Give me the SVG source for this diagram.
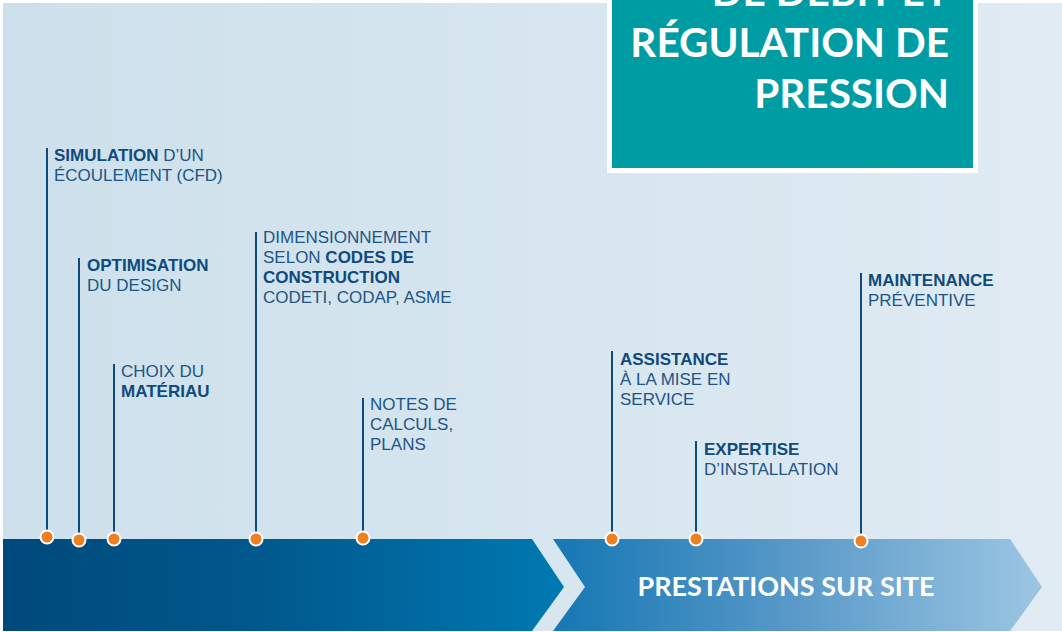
<svg xmlns="http://www.w3.org/2000/svg" width="1062" height="632" viewBox="0 0 1062 632">
<defs>
<linearGradient id="bg" x1="0" y1="0" x2="1" y2="0">
<stop offset="0" stop-color="#cde0eb"/>
<stop offset="1" stop-color="#e0ebf3"/>
</linearGradient>
<linearGradient id="dark" x1="0" y1="0" x2="1" y2="0">
<stop offset="0" stop-color="#00497b"/>
<stop offset="0.45" stop-color="#00588c"/>
<stop offset="1" stop-color="#0079b2"/>
</linearGradient>
<linearGradient id="light" x1="0" y1="0" x2="1" y2="0">
<stop offset="0" stop-color="#1577b3"/>
<stop offset="0.5" stop-color="#5a9ac9"/>
<stop offset="1" stop-color="#9cc6e2"/>
</linearGradient>
<style>
.t{font-family:"Liberation Sans",Arial,sans-serif;font-size:17px;fill:#1d5586}
.b{font-weight:bold;fill:#0f4a7c}
.ln{stroke:#0f4a7c;stroke-width:2;fill:none}
.dot{fill:#ee7f22;stroke:#ffffff;stroke-width:2}
.ti{font-family:Lato,"Liberation Sans",sans-serif;font-weight:bold;font-size:40.5px;fill:#ffffff;text-anchor:end}
</style>
</defs>
<rect x="0" y="0" width="1062" height="632" fill="#ffffff"/>
<rect x="3" y="3" width="1059" height="628" fill="url(#bg)"/>
<g id="title">
<rect x="609.5" y="-10" width="366" height="180.5" fill="#009ca3" stroke="#ffffff" stroke-width="5"/>
<text class="ti" x="949" y="6">DE DÉBIT ET</text>
<text class="ti" x="949" y="57">RÉGULATION DE</text>
<text class="ti" x="949" y="108">PRESSION</text>
</g>
<g id="band-conception">
<polygon points="3,539 532,539 564,587 532,631 3,631" fill="url(#dark)"/>
</g>
<g id="band-site">
<polygon points="553,539 1010,539 1042,587 1010,631 553,631 585,587" fill="url(#light)"/>
<text x="786" y="596" text-anchor="middle" style="font-family:Lato,'Liberation Sans',sans-serif;font-weight:bold;font-size:27px;fill:#ffffff">PRESTATIONS SUR SITE</text>
</g>
<g id="connectors">
<line class="ln" x1="47" y1="148" x2="47" y2="537"/>
<line class="ln" x1="79" y1="258" x2="79" y2="540"/>
<line class="ln" x1="114" y1="364" x2="114" y2="539"/>
<line class="ln" x1="256" y1="232" x2="256" y2="539"/>
<line class="ln" x1="363" y1="398" x2="363" y2="538"/>
<line class="ln" x1="612" y1="351" x2="612" y2="539"/>
<line class="ln" x1="696" y1="441" x2="696" y2="539"/>
<line class="ln" x1="861" y1="273" x2="861" y2="541"/>
<circle class="dot" cx="47" cy="537" r="6.5"/>
<circle class="dot" cx="79" cy="540" r="6.5"/>
<circle class="dot" cx="114" cy="539" r="6.5"/>
<circle class="dot" cx="256" cy="539" r="6.5"/>
<circle class="dot" cx="363" cy="538" r="6.5"/>
<circle class="dot" cx="612" cy="539" r="6.5"/>
<circle class="dot" cx="696" cy="539" r="6.5"/>
<circle class="dot" cx="861" cy="541" r="6.5"/>
</g>
<g id="simulation">
<text class="t" x="54" y="161"><tspan class="b">SIMULATION</tspan> D’UN</text>
<text class="t" x="54" y="181">ÉCOULEMENT (CFD)</text>
</g>
<g id="optimisation">
<text class="t b" x="87" y="271">OPTIMISATION</text>
<text class="t" x="87" y="291">DU DESIGN</text>
</g>
<g id="materiau">
<text class="t" x="121" y="377">CHOIX DU</text>
<text class="t b" x="121" y="397">MATÉRIAU</text>
</g>
<g id="dimensionnement">
<text class="t" x="263" y="243">DIMENSIONNEMENT</text>
<text class="t" x="263" y="263">SELON <tspan class="b">CODES DE</tspan></text>
<text class="t b" x="263" y="283">CONSTRUCTION</text>
<text class="t" x="263" y="303">CODETI, CODAP, ASME</text>
</g>
<g id="notes">
<text class="t" x="370" y="410">NOTES DE</text>
<text class="t" x="370" y="430">CALCULS,</text>
<text class="t" x="370" y="450">PLANS</text>
</g>
<g id="assistance">
<text class="t b" x="620" y="365">ASSISTANCE</text>
<text class="t" x="620" y="385">À LA MISE EN</text>
<text class="t" x="620" y="405">SERVICE</text>
</g>
<g id="expertise">
<text class="t b" x="704" y="455">EXPERTISE</text>
<text class="t" x="704" y="475">D’INSTALLATION</text>
</g>
<g id="maintenance">
<text class="t b" x="868" y="286">MAINTENANCE</text>
<text class="t" x="868" y="306">PRÉVENTIVE</text>
</g>
</svg>
